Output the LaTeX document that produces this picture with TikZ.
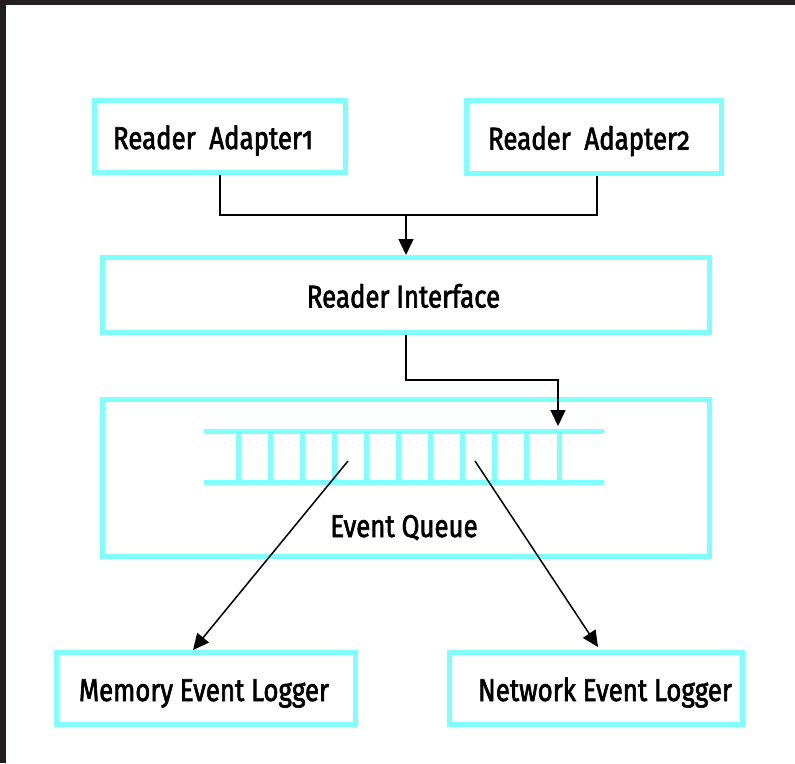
\documentclass[tikz,border=0pt]{standalone}
\usepackage{fontspec}
\setmainfont{Fira Sans}[Numbers=OldStyle, FakeStretch=0.82, FakeBold=2]
\usetikzlibrary{arrows.meta,calc}
\definecolor{qcyan}{RGB}{128,255,255}
\definecolor{framedark}{RGB}{35,31,32}
\begin{document}
\begin{tikzpicture}[x=1pt,y=-1pt,
  box/.style={draw=qcyan, line width=5pt, inner sep=0pt},
  lab/.style={inner sep=0pt, font=\fontsize{31.5}{36}\selectfont, text height=25pt, text depth=0pt},
  conn/.style={draw=black, line width=1.5pt},
  arr/.style={conn, -{Triangle[length=16pt,width=15pt]}},
  rail/.style={draw=qcyan, line width=5pt}]
\useasboundingbox (0,0) rectangle (795,763);
\fill[white] (0,0) rectangle (795,763);
\fill[framedark] (0,0) rectangle (795,4.5);
\fill[framedark] (0,0) rectangle (6,763);

\node[box, minimum width=251pt, minimum height=72pt,
  label={[lab, xshift=-7pt]center:Reader~~Adapter1}] (A1) at (220,136.5) {};
\node[box, minimum width=255pt, minimum height=73pt,
  label={[lab, xshift=-5pt]center:Reader~~Adapter2}] (A2) at (594,137) {};
\node[box, minimum width=607pt, minimum height=75pt,
  label={[lab, xshift=-2.5pt]center:Reader Interface}] (RI) at (406,295) {};
\node[box, minimum width=607pt, minimum height=157pt] (EQ) at (406,478) {};
\node[lab] (EQt) at (404,524.5) {Event Queue};
\node[box, minimum width=299pt, minimum height=72pt,
  label={[lab, xshift=-2pt]center:Memory Event Logger}] (MEL) at (206,688.5) {};
\node[box, minimum width=293pt, minimum height=72pt,
  label={[lab, xshift=9pt]center:Network Event Logger}] (NEL) at (596,688.5) {};

% queue ladder
\draw[rail] (204,431) -- (604,431);
\draw[rail] (204,482) -- (604,482);
\foreach \i in {0,...,10} \draw[rail] ({238+32.1*\i},431) -- ({238+32.1*\i},482);

% connectors
\coordinate (j) at (406,215);
\draw[conn] (A1.south) |- (j);
\draw[conn] ([xshift=3pt]A2.south) |- (j);
\draw[arr] (j) -- (RI.north);

\coordinate (bend) at (558,380);
\coordinate (qin) at (558,426);
\draw[arr] (RI.south) |- (bend) -- (qin);

\coordinate (q1) at (348,461);
\coordinate (q2) at (475,461);
\draw[arr] (q1) -- ($(MEL.north)+(-13,0)$);
\draw[arr] (q2) -- ($(NEL.north)+(2,-3)$);
\end{tikzpicture}
\end{document}
